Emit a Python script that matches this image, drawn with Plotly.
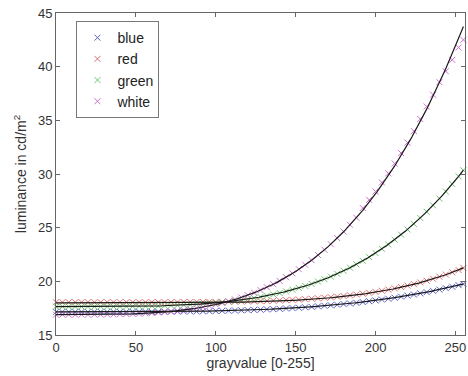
import plotly.graph_objects as go
import numpy as np

# gray values (x)
gray = [0, 4, 8, 12, 16, 20, 24, 28, 32, 36, 40, 44, 48, 52, 56, 60, 64, 68, 72, 76,
        80, 84, 88, 92, 96, 100, 104, 108, 112, 116, 120, 124, 128, 132, 136, 140,
        144, 148, 152, 156, 160, 164, 168, 172, 176, 180, 184, 188, 192, 196, 200,
        204, 208, 212, 216, 220, 224, 228, 232, 236, 240, 244, 248, 252, 255]

blue = [17.15, 17.15, 17.15, 17.15, 17.15, 17.15, 17.15, 17.15, 17.15, 17.15, 17.15,
        17.15, 17.16, 17.16, 17.16, 17.16, 17.17, 17.17, 17.18, 17.18, 17.19, 17.20,
        17.20, 17.21, 17.22, 17.24, 17.25, 17.26, 17.28, 17.30, 17.32, 17.34, 17.36,
        17.39, 17.41, 17.44, 17.47, 17.51, 17.54, 17.58, 17.62, 17.67, 17.72, 17.77,
        17.82, 17.88, 17.94, 18.00, 18.07, 18.15, 18.22, 18.30, 18.38, 18.47, 18.57,
        18.67, 18.77, 18.88, 18.99, 19.11, 19.23, 19.36, 19.50, 19.64, 19.75]

red = [18.05, 18.05, 18.05, 18.05, 18.05, 18.05, 18.05, 18.05, 18.05, 18.05, 18.05,
       18.05, 18.05, 18.05, 18.05, 18.05, 18.05, 18.06, 18.06, 18.06, 18.07, 18.07,
       18.08, 18.08, 18.09, 18.08, 18.09, 18.10, 18.11, 18.12, 18.13, 18.14, 18.16,
       18.17, 18.20, 18.22, 18.25, 18.27, 18.30, 18.34, 18.38, 18.42, 18.47, 18.52,
       18.57, 18.63, 18.70, 18.77, 18.85, 18.93, 19.02, 19.12, 19.23, 19.34, 19.47,
       19.60, 19.74, 19.90, 20.06, 20.24, 20.43, 20.63, 20.84, 21.05, 21.25]

green = [17.65, 17.65, 17.65, 17.65, 17.65, 17.65, 17.65, 17.65, 17.65, 17.65, 17.66,
         17.66, 17.67, 17.68, 17.69, 17.70, 17.71, 17.73, 17.75, 17.77, 17.80, 17.83,
         17.86, 17.90, 17.95, 18.00, 18.05, 18.12, 18.18, 18.26, 18.35, 18.44, 18.55,
         18.66, 18.78, 18.91, 19.06, 19.22, 19.39, 19.57, 19.76, 19.98, 20.20, 20.44,
         20.70, 20.98, 21.27, 21.58, 21.91, 22.26, 22.63, 23.03, 23.44, 23.88, 24.35,
         24.83, 25.35, 25.90, 26.48, 27.08, 27.71, 28.37, 29.06, 29.78, 30.35]

white = [16.90, 16.90, 16.90, 16.90, 16.90, 16.90, 16.91, 16.91, 16.92, 16.92, 16.94,
         16.95, 16.97, 16.99, 17.02, 17.05, 17.09, 17.14, 17.19, 17.25, 17.32, 17.41,
         17.50, 17.60, 17.71, 17.84, 17.99, 18.14, 18.31, 18.50, 18.71, 18.94, 19.18,
         19.45, 19.73, 20.04, 20.38, 20.74, 21.13, 21.54, 21.97, 22.45, 22.94, 23.46,
         24.03, 24.64, 25.27, 25.92, 26.83, 27.59, 28.37, 29.21, 30.06, 30.97, 31.95,
         32.93, 34.00, 35.12, 36.29, 37.39, 38.55, 39.57, 40.64, 41.78, 42.50]

series_names = ["blue", "red", "green", "white"]
series_values = [blue, red, green, white]
series_colors = ["#5a62c8", "#e07070", "#6cc86c", "#d070d0"]

# fitted curve parameters: L = offset + scale * (g/255)^gamma
fit_offset = [17.15, 18.00, 17.65, 16.90]
fit_scale = [2.60, 3.25, 12.70, 26.85]
fit_gamma = [3.65, 4.90, 3.85, 3.58]

x_ticks = [0, 50, 100, 150, 200, 250]
y_ticks = [15, 20, 25, 30, 35, 40, 45]

fig = go.Figure()

for name, vals, col in zip(series_names, series_values, series_colors):
    fig.add_trace(go.Scatter(
        x=gray, y=vals, mode="markers", name=name,
        marker=dict(symbol="x-thin", size=6, color=col,
                    line=dict(width=1, color=col)),
        cliponaxis=False,
    ))

xs = np.linspace(0, 255, 256)
for a, b, g in zip(fit_offset, fit_scale, fit_gamma):
    fig.add_trace(go.Scatter(
        x=xs, y=a + b * (xs / 255.0) ** g, mode="lines",
        line=dict(color="#1a1a1a", width=1.2), showlegend=False,
        hoverinfo="skip",
    ))

axis_common = dict(
    showline=True, linecolor="#666666", linewidth=1, mirror="ticks",
    ticks="inside", ticklen=4, tickcolor="#666666", showgrid=False,
    zeroline=False, tickfont=dict(size=13, color="#333333"),
)

fig.update_layout(
    width=468, height=376,
    margin=dict(l=56, r=3, t=13, b=41),
    paper_bgcolor="white", plot_bgcolor="white",
    font=dict(family="Liberation Sans, Arial, sans-serif", color="#333333"),
    xaxis=dict(range=[0, 256], tickvals=x_ticks,
               title=dict(text="grayvalue [0-255]", font=dict(size=14), standoff=4),
               **axis_common),
    yaxis=dict(range=[15, 45], tickvals=y_ticks,
               title=dict(text="luminance in cd/m<sup>2</sup>", font=dict(size=14), standoff=8),
               **axis_common),
    legend=dict(x=0.05, y=0.975, xanchor="left", yanchor="top",
                bordercolor="#777777", borderwidth=1, bgcolor="white",
                font=dict(size=14, color="#222222"), itemwidth=30,
                tracegroupgap=0),
    showlegend=True,
)

fig.write_html("out.html", config={"displayModeBar": False},
               post_script="document.body.style.margin='0';document.body.style.overflow='hidden';")
